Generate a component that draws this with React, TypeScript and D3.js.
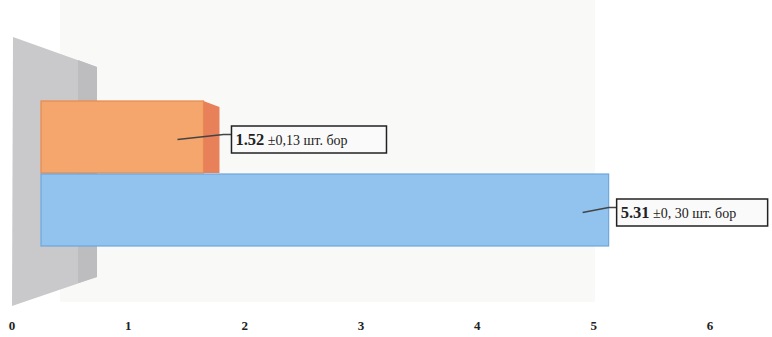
import React, { useEffect, useRef } from 'react';
import * as d3 from 'd3';

const categories = ['a', 'b'];
const values = [1.52, 5.31];
const errors = ['0,13', '0, 30'];
const unitText = 'шт. бор';
const tickValues = [0, 1, 2, 3, 4, 5, 6];
const barColors = ['#f5a66c', '#92c3ee'];
const barStrokes = ['#e8894e', '#6ea6dd'];

export default function App() {
  const svgRef = useRef<SVGSVGElement>(null);

  useEffect(() => {
    if (!svgRef.current) return;
    const svg = d3.select(svgRef.current);
    svg.selectAll('*').remove();

    const width = 772;
    const height = 337;

    // axis labels sit on the back plane, bars on the front plane
    const axisX = d3.scaleLinear().domain([0, 6]).range([12, 710]);
    const barX = d3.scaleLinear().domain([0, 6]).range([41, 41 + 6 * 106.9]);
    const y = d3.scaleBand().domain(categories).range([100, 246]).padding(0);

    svg.attr('width', width).attr('height', height);

    // faint scanned backdrop
    svg.append('rect')
      .attr('x', 60).attr('y', 0).attr('width', 535).attr('height', 302)
      .attr('fill', '#f9f9f8');

    // side wall
    svg.append('path')
      .attr('d', 'M13,37 L97,67 L97,277 L12,306 Z')
      .attr('fill', '#c9c9cb');
    svg.append('path')
      .attr('d', 'M78,60 L97,67 L97,277 L78,283 Z')
      .attr('fill', '#bdbdc0');

    const g = svg.append('g');

    categories.forEach((c, i) => {
      const y0 = y(c)!;
      const bh = y.bandwidth();
      const x1 = barX(values[i]);
      if (i === 0) {
        // 3d side face
        g.append('path')
          .attr('d', `M${x1},${y0 + 1} L${x1 + 16},${y0 + 7} L${x1 + 16},${y0 + bh} L${x1},${y0 + bh} Z`)
          .attr('fill', '#e8805a');
      }
      g.append('rect')
        .attr('x', barX(0))
        .attr('y', y0 + 1)
        .attr('width', x1 - barX(0))
        .attr('height', bh - 1)
        .attr('fill', barColors[i])
        .attr('stroke', barStrokes[i])
        .attr('stroke-width', 1.2);
    });

    // callout labels
    const offsets = [28, 8];
    categories.forEach((c, i) => {
      const cy = y(c)! + y.bandwidth() / 2 + 3;
      const x1 = barX(values[i]);
      const bx = x1 + offsets[i];
      const bw = i === 0 ? 155 : 151;
      const bh = 27;
      g.append('path')
        .attr('d', `M${x1 - 26},${cy} L${bx - 8},${cy - 5} L${bx},${cy - 5}`)
        .attr('fill', 'none')
        .attr('stroke', '#444')
        .attr('stroke-width', 1.5);
      g.append('rect')
        .attr('x', bx)
        .attr('y', cy - bh / 2)
        .attr('width', bw)
        .attr('height', bh)
        .attr('fill', '#fafafa')
        .attr('stroke', '#222')
        .attr('stroke-width', 1.5);
      const t = g.append('text')
        .attr('x', bx + 4)
        .attr('y', cy + 5)
        .attr('font-family', '"Liberation Serif", serif')
        .attr('fill', '#222');
      t.append('tspan').attr('font-weight', 'bold').attr('font-size', 16.5).text(values[i].toFixed(2));
      t.append('tspan').attr('font-size', 14).text(` ±${errors[i]} ${unitText}`);
    });

    // x tick labels
    svg.append('g')
      .selectAll('text')
      .data(tickValues)
      .enter()
      .append('text')
      .attr('x', (d) => axisX(d))
      .attr('y', 330)
      .attr('text-anchor', 'middle')
      .attr('font-family', '"Liberation Serif", serif')
      .attr('font-weight', 'bold')
      .attr('font-size', 13)
      .attr('fill', '#222')
      .text((d) => String(d));
  }, []);

  return (
    <div style={{ position: 'absolute', left: 0, top: 0, background: '#fff' }}>
      <svg ref={svgRef} style={{ display: 'block' }} />
    </div>
  );
}
